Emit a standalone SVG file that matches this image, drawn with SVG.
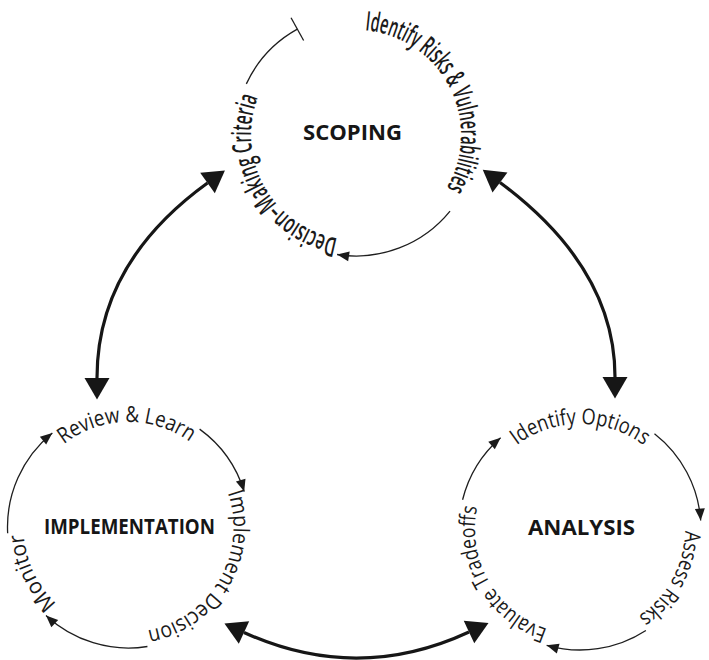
<svg xmlns="http://www.w3.org/2000/svg" xmlns:xlink="http://www.w3.org/1999/xlink" width="709" height="660" viewBox="0 0 709 660">
  <style>
    .cycle { fill: none; stroke: #1e1e1e; stroke-width: 1.3; }
    .link { fill: none; stroke: #161616; stroke-width: 3.2; }
    .step { font-family: "Open Sans", "Noto Sans", sans-serif; font-size: 22px; fill: #1a1a1a; }
    .step-narrow { font-family: "Open Sans", "Noto Sans", sans-serif; font-size: 27px; font-weight: 600; fill: #1a1a1a; }
    .title { font-family: "Open Sans", "Noto Sans", sans-serif; font-size: 22px; font-weight: 700; fill: #161616; }
  </style>
  <defs>
    <marker id="tip-small" markerUnits="userSpaceOnUse" markerWidth="14" markerHeight="12" viewBox="-13 -6 14 12" refX="0" refY="0" orient="auto">
      <path d="M-12,-5 L0,0 L-12,5 z" fill="#1a1a1a"/>
    </marker>
    <marker id="tip-big" markerUnits="userSpaceOnUse" markerWidth="24" markerHeight="28" viewBox="-1 -14 24 28" refX="0" refY="0" orient="auto-start-reverse">
      <path d="M0,-12.5 L21.5,0 L0,12.5 z" fill="#161616"/>
    </marker>

    <!-- text baselines (clockwise arcs, glyph tops facing outward) -->
    <path id="p-risks" d="M365.15,30.40 A105,105 0 0 1 423.49,215.43"/>
    <path id="p-criteria" d="M337.77,238.40 A105,105 0 0 1 288.51,54.57"/>
    <path id="p-review" d="M63.86,444.26 A105,105 0 0 1 208.93,459.51"/>
    <path id="p-implement" d="M227.78,492.82 A105,105 0 0 1 128.5,632"/>
    <path id="p-monitor" d="M56.89,603.79 A105,105 0 0 1 25.09,508.77"/>
    <path id="p-options" d="M516.81,445.14 A105,105 0 0 1 660.43,461.51"/>
    <path id="p-assess" d="M684.98,530.83 A105,105 0 0 1 598.23,632.41"/>
    <path id="p-evaluate" d="M547.55,628.86 A105,105 0 0 1 489.07,476.5"/>
  </defs>

  <rect width="709" height="660" fill="#ffffff"/>

  <!-- Scoping cycle -->
  <g id="scoping">
    <path class="cycle" d="M246.34,83.87 A121,121 0 0 1 297.34,29.17"/>
    <line class="cycle" x1="303.64" y1="40.54" x2="291.04" y2="17.80"/>
    <path class="cycle" d="M450.04,211.15 A121,121 0 0 1 337.07,254.51" marker-end="url(#tip-small)"/>
    <text class="step-narrow"><textPath xlink:href="#p-risks" href="#p-risks" textLength="211" lengthAdjust="spacingAndGlyphs">Identify Risks &amp; Vulnerabilities</textPath></text>
    <text class="step-narrow"><textPath xlink:href="#p-criteria" href="#p-criteria" textLength="185" lengthAdjust="spacingAndGlyphs">Decision–Making Criteria</textPath></text>
    <text class="title" x="352.5" y="140" text-anchor="middle" textLength="99" lengthAdjust="spacingAndGlyphs">SCOPING</text>
  </g>

  <!-- Implementation cycle -->
  <g id="implementation">
    <path class="cycle" d="M7.67,533.33 A121,121 0 0 1 52.35,432.96" marker-end="url(#tip-small)"/>
    <path class="cycle" d="M199.62,429.11 A121,121 0 0 1 244.21,491.62" marker-end="url(#tip-small)"/>
    <path class="cycle" d="M147.43,646.51 A121,121 0 0 1 45.98,615.49" marker-end="url(#tip-small)"/>
    <text class="step"><textPath xlink:href="#p-review" href="#p-review" textLength="135" lengthAdjust="spacingAndGlyphs">Review &amp; Learn</textPath></text>
    <text class="step"><textPath xlink:href="#p-implement" href="#p-implement" textLength="181" lengthAdjust="spacingAndGlyphs">Implement Decision</textPath></text>
    <text class="step"><textPath xlink:href="#p-monitor" href="#p-monitor" textLength="79" lengthAdjust="spacingAndGlyphs">Monitor</textPath></text>
    <text class="title" x="129.5" y="534" text-anchor="middle" textLength="171" lengthAdjust="spacingAndGlyphs">IMPLEMENTATION</text>
  </g>

  <!-- Analysis cycle -->
  <g id="analysis">
    <path class="cycle" d="M462.59,499.73 A121,121 0 0 1 500.62,437.68" marker-end="url(#tip-small)"/>
    <path class="cycle" d="M654.49,433.65 A121,121 0 0 1 700.70,520.56" marker-end="url(#tip-small)"/>
    <path class="cycle" d="M645.90,630.48 A121,121 0 0 1 546.65,645.31" marker-end="url(#tip-small)"/>
    <text class="step"><textPath xlink:href="#p-options" href="#p-options" textLength="136" lengthAdjust="spacingAndGlyphs">Identify Options</textPath></text>
    <text class="step"><textPath xlink:href="#p-assess" href="#p-assess" textLength="101" lengthAdjust="spacingAndGlyphs">Assess Risks</textPath></text>
    <text class="step"><textPath xlink:href="#p-evaluate" href="#p-evaluate" textLength="154" lengthAdjust="spacingAndGlyphs">Evaluate Tradeoffs</textPath></text>
    <text class="title" x="581.5" y="535" text-anchor="middle" textLength="107" lengthAdjust="spacingAndGlyphs">ANALYSIS</text>
  </g>

  <!-- two-way links between the cycles -->
  <g id="connectors">
    <path class="link" d="M207.5,183 Q97,263 97,378" marker-start="url(#tip-big)" marker-end="url(#tip-big)"/>
    <path class="link" d="M500,182.5 Q615,268 615,377" marker-start="url(#tip-big)" marker-end="url(#tip-big)"/>
    <path class="link" d="M244,632.5 Q357,684 469,632" marker-start="url(#tip-big)" marker-end="url(#tip-big)"/>
  </g>
</svg>
